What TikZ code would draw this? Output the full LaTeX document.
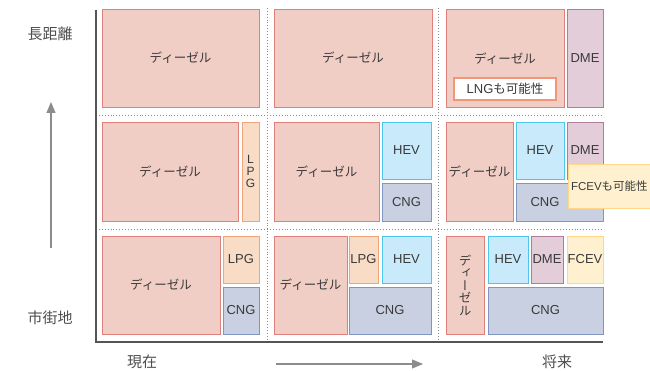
\documentclass[tikz,border=0pt]{standalone}
\usepackage{fontspec}
\setmainfont{Liberation Sans}
\newfontfamily\jp{Noto Sans CJK JP}
\newfontfamily\jpv{Noto Sans CJK JP}[RawFeature=+vert]
\usetikzlibrary{arrows.meta}
\definecolor{txt}{HTML}{3A3A3A}
\definecolor{dslF}{HTML}{F1CEC5}\definecolor{dslD}{HTML}{E0807A}
\definecolor{lpgF}{HTML}{F9DCC6}\definecolor{lpgD}{HTML}{F0A578}
\definecolor{cngF}{HTML}{C8D0E1}\definecolor{cngD}{HTML}{7F96C0}
\definecolor{hevF}{HTML}{C9EAFA}\definecolor{hevD}{HTML}{4FC4EF}
\definecolor{dmeF}{HTML}{E3CDD9}\definecolor{dmeD}{HTML}{B07C9C}
\definecolor{fcvF}{HTML}{FFF1CF}\definecolor{fcvD}{HTML}{FFD786}
\definecolor{lngD}{HTML}{F39577}
\definecolor{axisC}{HTML}{555555}
\definecolor{gridC}{HTML}{8A8A8A}
\definecolor{arrC}{HTML}{8C8C8C}
\newcommand\dz{{\jp\fontsize{12.5}{14}\selectfont ディーゼル}}
\begin{document}
\begin{tikzpicture}[x=1pt,y=-1pt,
  every node/.style={text=txt, font=\fontsize{13}{15}\selectfont},
  cell/.style={draw, line width=0.9pt, inner sep=0pt, outer sep=0pt},
  diesel/.style={cell, fill=dslF, draw=dslD},
  lpg/.style={cell, fill=lpgF, draw=lpgD},
  cng/.style={cell, fill=cngF, draw=cngD},
  hev/.style={cell, fill=hevF, draw=hevD},
  dme/.style={cell, fill=dmeF, draw=dmeD},
  fcev/.style={cell, fill=fcvF, draw=fcvD},
  lng/.style={cell, fill=white, draw=lngD, line width=1.2pt},
  axislabel/.style={font=\jp\fontsize{15}{17}\selectfont, text=txt!90},
  grid/.style={draw=gridC, line width=0.9pt, dotted},
  axisline/.style={draw=axisC, line width=1.3pt},
  arr/.style={draw=arrC, line width=1.1pt, -{Triangle[length=11pt,width=9pt]}}
]
\useasboundingbox (0,0) rectangle (650,371);
\fill[white] (0,0) rectangle (650,371);

% grid
\coordinate (gh1a) at (96,115); \coordinate (gh1b) at (603,115);
\coordinate (gh2a) at (96,229); \coordinate (gh2b) at (603,229);
\coordinate (gv1a) at (267,8);  \coordinate (gv1b) at (267,342);
\coordinate (gv2a) at (438,8);  \coordinate (gv2b) at (438,342);
\draw[grid] (gh1a) -- (gh1b);
\draw[grid] (gh2a) -- (gh2b);
\draw[grid] (gv1a) -- (gv1b);
\draw[grid] (gv2a) -- (gv2b);

% axes
\coordinate (ytop) at (96,10);
\coordinate (orig) at (96,342);
\coordinate (xend) at (603,342);
\draw[axisline] (ytop) -- (orig) -- (xend);

% row 1
\node[diesel, minimum width=157pt, minimum height=98pt] (d11) at (180.5,58) {\dz};
\node[diesel, minimum width=158pt, minimum height=98pt] (d12) at (353,58) {\dz};
\node[diesel, minimum width=118pt, minimum height=98pt] (d13) at (505,58) {};
\node (d13t) at (505,59) {\dz};
\node[dme, minimum width=36pt, minimum height=98pt] (m13) at (585,58) {DME};
\node[lng, minimum width=102pt, minimum height=22pt] (lng) at (505,89) {LNG{\jp\fontsize{12.5}{14}\selectfont も可能性}};

% row 2
\node[diesel, minimum width=136pt, minimum height=99pt] (d21) at (170,171.5) {\dz};
\node[lpg, minimum width=17pt, minimum height=99pt, align=center, font=\fontsize{12}{12}\selectfont] (l21) at (250.5,171.5) {L\\P\\G};
\node[diesel, minimum width=105pt, minimum height=99pt] (d22) at (326.5,171.5) {\dz};
\node[hev, minimum width=49pt, minimum height=57pt] (h22) at (406.5,150.5) {HEV};
\node[cng, minimum width=49pt, minimum height=38pt] (c22) at (406.5,202) {CNG};
\node[diesel, minimum width=67pt, minimum height=99pt] (d23) at (479.5,171.5) {\dz};
\node[hev, minimum width=48pt, minimum height=57pt] (h23) at (540,150.5) {HEV};
\node[dme, minimum width=36pt, minimum height=57pt] (m23) at (585,150.5) {DME};
\node[cng, minimum width=87pt, minimum height=38pt] (c23) at (559.5,202) {};
\node (c23t) at (545,202) {CNG};
\node[fcev, anchor=west, minimum height=44pt, text width=90pt, align=left, inner xsep=3pt, font=\fontsize{11.5}{14}\selectfont] (fc) at (568,186) {FCEV{\jp\fontsize{11.5}{14}\selectfont も可能性}};

% row 3
\node[diesel, minimum width=118pt, minimum height=98pt] (d31) at (161,285) {\dz};
\node[lpg, minimum width=36pt, minimum height=47pt] (l31) at (241,259.5) {LPG};
\node[cng, minimum width=36pt, minimum height=47pt] (c31) at (241,310.5) {CNG};
\node[diesel, minimum width=73pt, minimum height=98pt] (d32) at (310.5,285) {\dz};
\node[lpg, minimum width=29pt, minimum height=47pt] (l32) at (363.5,259.5) {LPG};
\node[hev, minimum width=49pt, minimum height=47pt] (h32) at (406.5,259.5) {HEV};
\node[cng, minimum width=82pt, minimum height=47pt] (c32) at (390,310.5) {CNG};
\node[diesel, minimum width=38pt, minimum height=98pt, align=center, font=\jpv\fontsize{12.5}{12.5}\selectfont] (d33) at (465,285) {デ\\ィ\\ー\\ゼ\\ル};
\node[hev, minimum width=40pt, minimum height=47pt] (h33) at (508,259.5) {HEV};
\node[dme, minimum width=32pt, minimum height=47pt] (m33) at (547,259.5) {DME};
\node[fcev, minimum width=36pt, minimum height=47pt] (f33) at (585,259.5) {FCEV};
\node[cng, minimum width=115pt, minimum height=47pt] (c33) at (545.5,310.5) {CNG};

% axis labels
\node[axislabel] (long) at (50,34) {長距離};
\node[axislabel] (city) at (50,318) {市街地};
\node[axislabel] (now) at (142,362) {現在};
\node[axislabel] (fut) at (557,362) {将来};

% arrows
\coordinate (va) at (51,248); \coordinate (vb) at (51,102);
\coordinate (ha) at (276,364); \coordinate (hb) at (423,364);
\draw[arr] (va) -- (vb);
\draw[arr] (ha) -- (hb);
\end{tikzpicture}
\end{document}
